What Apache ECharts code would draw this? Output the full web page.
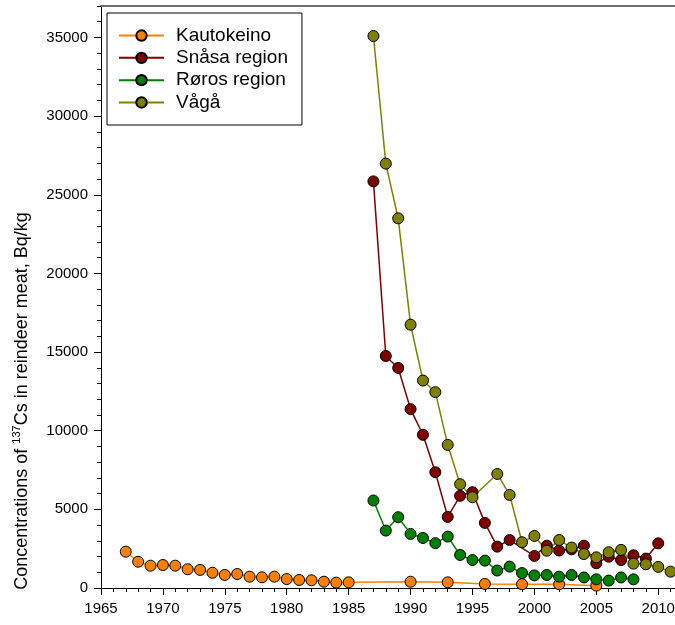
<!DOCTYPE html>
<html>
<head>
<meta charset="utf-8">
<script src="https://cdn.jsdelivr.net/npm/echarts@6/dist/echarts.min.js"></script>
<style>html,body{margin:0;padding:0;background:#fff}#c{width:675px;height:625px}</style>
</head>
<body>
<div id="c"></div>
<script>
var seriesNames = ['Kautokeino', 'Snåsa region', 'Røros region', 'Vågå'];

var kautoYears = [1967,1968,1969,1970,1971,1972,1973,1974,1975,1976,1977,1978,1979,1980,1981,1982,1983,1984,1985,1990,1993,1996,1999,2002,2005];
var kautoVals  = [2310,1670,1420,1460,1420,1190,1150,970,830,890,720,680,720,570,510,490,400,340,360,400,360,260,240,240,150];

var snasaYears = [1987,1988,1989,1990,1991,1992,1993,1994,1995,1996,1997,1998,2000,2001,2002,2003,2004,2005,2006,2007,2008,2009,2010];
var snasaVals  = [25850,14750,13990,11370,9740,7360,4520,5860,6090,4140,2630,3050,2040,2690,2380,2460,2690,1570,1990,1780,2080,1870,2840];

var rorosYears = [1987,1988,1989,1990,1991,1992,1993,1994,1995,1996,1997,1998,1999,2000,2001,2002,2003,2004,2005,2006,2007,2008];
var rorosVals  = [5560,3650,4500,3440,3180,2850,3270,2100,1780,1740,1110,1360,950,800,830,720,830,670,550,470,670,550];

var vagaYears = [1987,1988,1989,1990,1991,1992,1993,1994,1995,1997,1998,1999,2000,2001,2002,2003,2004,2005,2006,2007,2008,2009,2010,2011];
var vagaVals  = [35090,26980,23500,16740,13190,12450,9100,6600,5770,7250,5920,2910,3310,2370,3050,2570,2160,1950,2270,2420,1550,1510,1340,1040];

var xTickLabels = [1965,1970,1975,1980,1985,1990,1995,2000,2005,2010];
var yTickLabels = [0,5000,10000,15000,20000,25000,30000,35000];

function zip(xs, ys) { return xs.map(function (x, i) { return [x, ys[i]]; }); }
function plain(v) { return String(v); }

var colors = ['#FF8000', '#800000', '#008000', '#808000'];
var datasets = [zip(kautoYears, kautoVals), zip(snasaYears, snasaVals), zip(rorosYears, rorosVals), zip(vagaYears, vagaVals)];

var FONT = 'Liberation Sans, Arial, sans-serif';

var chart = echarts.init(document.getElementById('c'), null, {renderer: 'canvas'});
chart.setOption({
  animation: false,
  backgroundColor: '#fff',
  textStyle: {fontFamily: FONT},
  grid: {left: 101, top: 6, width: 582, height: 582, containLabel: false, outerBoundsMode: 'none'},
  legend: {
    left: 107, top: 13, orient: 'vertical',
    data: seriesNames,
    itemWidth: 45, itemHeight: 13, itemGap: 0,
    padding: [11.4, 14, 11.4, 11],
    borderColor: '#000', borderWidth: 1, backgroundColor: '#fff',
    textStyle: {fontSize: 19, color: '#000', fontFamily: FONT, lineHeight: 22.3, padding: [0, 0, 0, 7]}
  },
  xAxis: [
    {
      type: 'value', min: 1965, max: 2012, interval: 1, position: 'bottom',
      axisLine: {show: true, onZero: false, lineStyle: {color: '#000', width: 1}},
      axisTick: {show: true, length: 4, lineStyle: {color: '#000'}},
      axisLabel: {show: false},
      splitLine: {show: false}
    },
    {
      type: 'value', min: 1965, max: 2012, position: 'bottom',
      axisLine: {show: false, onZero: false},
      axisTick: {show: true, length: 7, customValues: xTickLabels, lineStyle: {color: '#000'}},
      axisLabel: {show: true, customValues: xTickLabels, formatter: plain, fontSize: 15, color: '#000', margin: 13, fontFamily: FONT},
      splitLine: {show: false}
    },
    {
      type: 'value', min: 1965, max: 2012, position: 'top',
      axisLine: {show: true, onZero: false, lineStyle: {color: '#707070', width: 2}},
      axisTick: {show: false}, axisLabel: {show: false}, splitLine: {show: false}
    }
  ],
  yAxis: [
    {
      type: 'value', min: 0, max: 37000, interval: 1000, position: 'left',
      axisLine: {show: true, onZero: false, lineStyle: {color: '#000', width: 1}},
      axisTick: {show: true, length: 4, lineStyle: {color: '#000'}},
      axisLabel: {show: false},
      splitLine: {show: false}
    },
    {
      type: 'value', min: 0, max: 37000, position: 'left',
      axisLine: {show: false, onZero: false},
      axisTick: {show: true, length: 7, customValues: yTickLabels, lineStyle: {color: '#000'}},
      axisLabel: {show: true, customValues: yTickLabels, formatter: plain, fontSize: 15, color: '#000', margin: 13, fontFamily: FONT},
      splitLine: {show: false}
    }
  ],
  graphic: [{
    type: 'text', x: 22, y: 401, rotation: Math.PI / 2,
    style: {
      text: '{a|Concentrations of }{s|137}{a|Cs in reindeer meat, Bq/kg}',
      rich: {
        a: {fontSize: 18, fontFamily: FONT, fill: '#000', lineHeight: 22},
        s: {fontSize: 11, fontFamily: FONT, fill: '#000', verticalAlign: 'top', lineHeight: 22}
      },
      textAlign: 'center', textVerticalAlign: 'middle'
    }
  }],
  series: seriesNames.map(function (name, i) {
    return {
      name: name, type: 'line', xAxisIndex: 0, yAxisIndex: 0,
      data: datasets[i],
      symbol: 'circle', symbolSize: 11, showSymbol: true,
      lineStyle: {color: colors[i], width: 1.5},
      itemStyle: {color: colors[i], borderColor: '#000', borderWidth: 1},
      emphasis: {disabled: true},
      clip: false
    };
  })
});
</script>
</body>
</html>
